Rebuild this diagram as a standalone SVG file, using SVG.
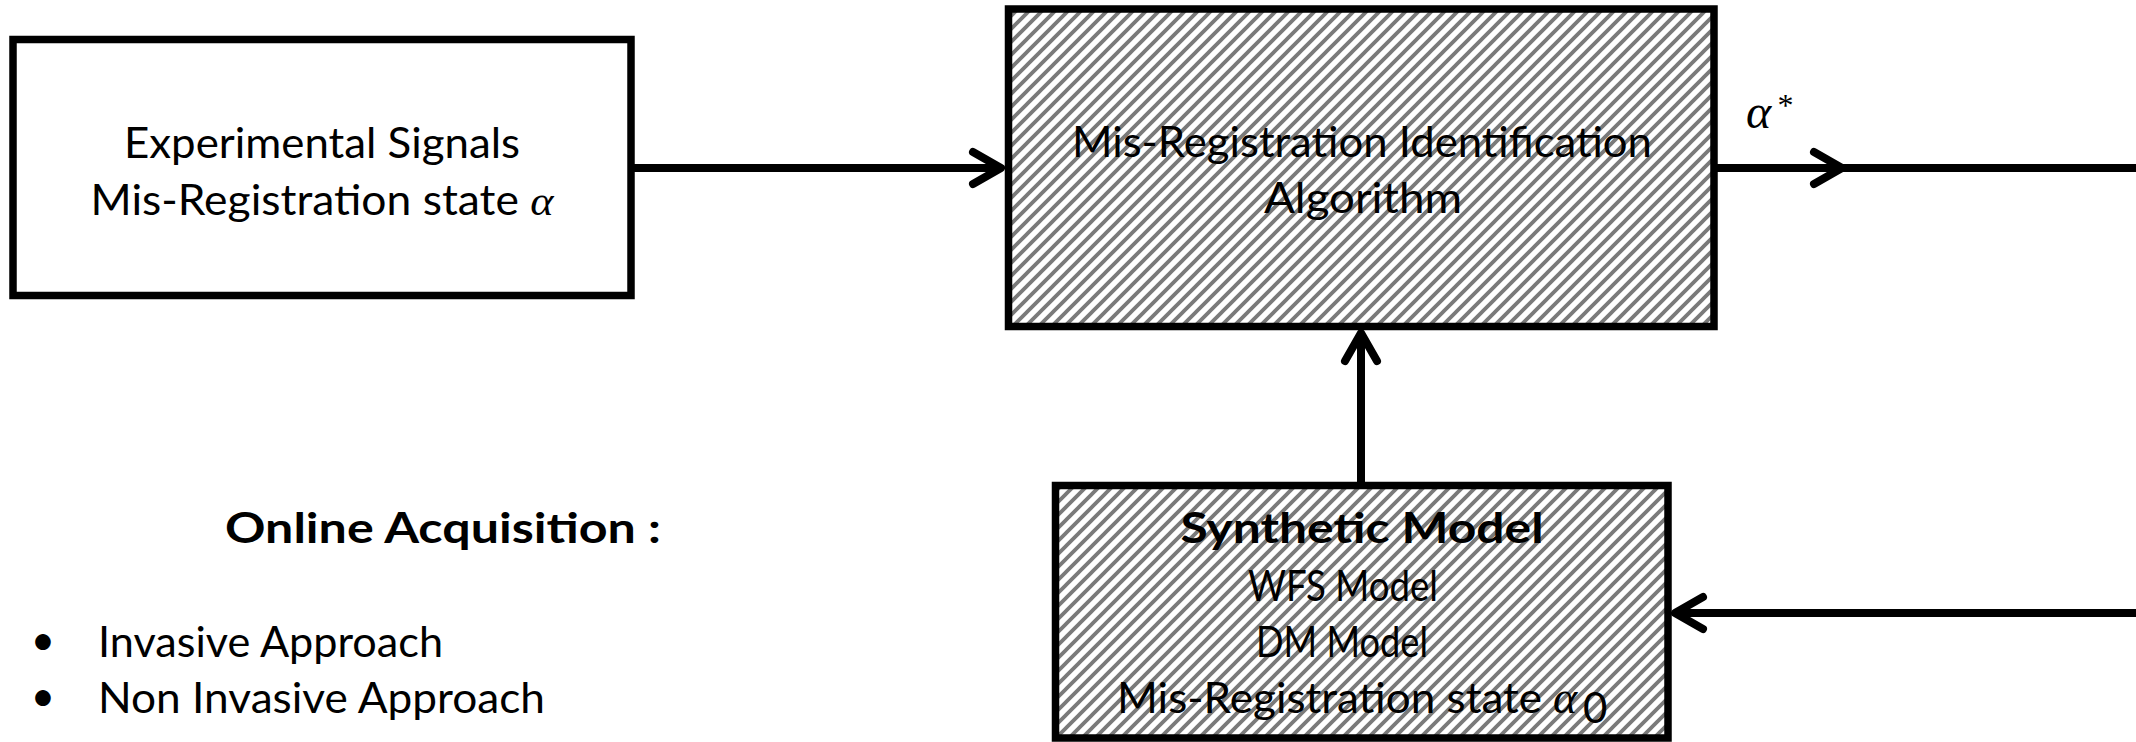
<svg xmlns="http://www.w3.org/2000/svg" width="2136" height="742" viewBox="0 0 2136 742">
<style>
.box{stroke:#000;stroke-width:7.5}
.plain{fill:#fff}
.hatch{fill:url(#hatch)}
.t{font-family:Lato,"Liberation Sans",sans-serif;font-size:42px;fill:#000;text-anchor:middle}
.tl{font-family:Lato,"Liberation Sans",sans-serif;font-size:42px;fill:#000}
.b{font-weight:bold}
.m{font-family:"Liberation Serif","DejaVu Serif",serif;font-style:italic}
.conn{fill:none;stroke:#000;stroke-width:8}
</style>
<defs>
<pattern id="hatch" patternUnits="userSpaceOnUse" width="13" height="13">
<rect width="13" height="13" fill="#fff"/>
<path d="M-3,16 L16,-3 M-16,16 L3,-3 M10,16 L29,-3" stroke="#7a7a7a" stroke-width="3.8"/>
</pattern>
<marker id="arr" markerUnits="userSpaceOnUse" markerWidth="60" markerHeight="60" refX="40" refY="30" orient="auto" viewBox="0 0 60 60">
<path d="M12,14 L40,30 L12,46" fill="none" stroke="#000" stroke-width="8" stroke-linecap="round" stroke-linejoin="round"/>
</marker>
</defs>

<g id="connectors">
<path class="conn" d="M631,168 L1001,168" marker-end="url(#arr)"/>
<path class="conn" d="M1714,168 L1842,168 L2136,168" marker-mid="url(#arr)"/>
<path class="conn" d="M1361,485 L1361,333" marker-end="url(#arr)"/>
<path class="conn" d="M2136,613 L1675,613" marker-end="url(#arr)"/>
</g>

<g id="experimental-signals">
<rect class="box plain" x="13" y="39.5" width="618" height="256"/>
<text class="t" x="322" y="158" textLength="396" lengthAdjust="spacingAndGlyphs">Experimental Signals</text>
<text class="t" x="322" y="215" textLength="463" lengthAdjust="spacingAndGlyphs">Mis-Registration state <tspan class="m">α</tspan></text>
</g>

<g id="identification-algorithm">
<rect class="box hatch" x="1008.5" y="9" width="705.5" height="317.5"/>
<text class="t" x="1362" y="157" textLength="580" lengthAdjust="spacingAndGlyphs">Mis-Registration Identification</text>
<text class="t" x="1363" y="213" textLength="198" lengthAdjust="spacingAndGlyphs">Algorithm</text>
</g>

<g id="alpha-star">
<text class="m" x="1746" y="128" font-size="48">α</text>
<text class="m" x="1776" y="116" font-size="32">*</text>
</g>

<g id="synthetic-model">
<rect class="box hatch" x="1055.5" y="485.5" width="612.5" height="252.5"/>
<text class="t b" x="1362" y="543" textLength="363" lengthAdjust="spacingAndGlyphs">Synthetic Model</text>
<text class="t" x="1343" y="601" textLength="190" lengthAdjust="spacingAndGlyphs">WFS Model</text>
<text class="t" x="1342" y="657" textLength="172" lengthAdjust="spacingAndGlyphs">DM Model</text>
<text class="tl" x="1117" y="713" textLength="425" lengthAdjust="spacingAndGlyphs">Mis-Registration state</text>
<text class="m" x="1553" y="713" font-size="46">α</text>
<text class="tl" x="1583" y="723" font-size="30">0</text>
</g>

<g id="online-acquisition">
<text class="tl b" x="225" y="543" textLength="436" lengthAdjust="spacingAndGlyphs">Online Acquisition  :</text>
<text class="t" x="43" y="655">•</text>
<text class="tl" x="98" y="657" textLength="345" lengthAdjust="spacingAndGlyphs">Invasive Approach</text>
<text class="t" x="43" y="711">•</text>
<text class="tl" x="98" y="713" textLength="447" lengthAdjust="spacingAndGlyphs">Non Invasive Approach</text>
</g>
</svg>
